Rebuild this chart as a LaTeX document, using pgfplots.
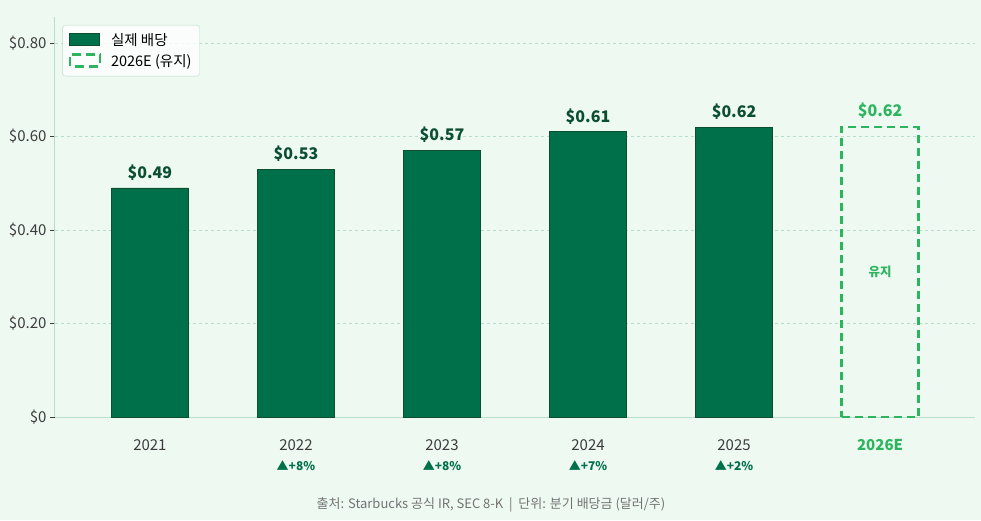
\documentclass[border=0pt]{standalone}
\usepackage{pgfplots}
\pgfplotsset{compat=1.18}
\usepackage{fontspec}
\setmainfont{Noto Sans CJK KR}
\definecolor{bg}{RGB}{238,249,242}
\definecolor{sb}{RGB}{0,112,74}
\definecolor{sbdark}{RGB}{12,78,48}
\definecolor{lg}{RGB}{45,180,95}
\definecolor{spine}{RGB}{183,222,200}
\definecolor{txt}{RGB}{60,60,60}
\definecolor{foot}{RGB}{115,115,115}
\begin{document}
\begin{tikzpicture}[x=1pt,y=1pt]
\fill[bg] (0,0) rectangle (981,520);
\begin{axis}[
  at={(55pt,103pt)}, anchor=south west,
  width=920pt, height=400pt, scale only axis,
  xmin=-0.65, xmax=5.65, ymin=0, ymax=0.8556,
  axis x line*=bottom, axis y line*=left,
  axis line style={draw=spine, line width=1pt, -},
  xtick={0,1,2,3,4,5},
  xticklabels={2021,2022,2023,2024,2025,{\color{lg}\bfseries 2026E}},
  x tick label style={font=\fontsize{15}{17}\selectfont, text=txt, yshift=-14pt},
  x tick style={draw=none},
  ytick={0,0.2,0.4,0.6,0.8},
  yticklabels={\$0,\$0.20,\$0.40,\$0.60,\$0.80},
  y tick label style={font=\fontsize{15}{17}\selectfont, text=txt},
  y tick style={draw=txt, line width=0.8pt},
  major tick length=5pt,
  tick align=outside,
  ymajorgrids,
  grid style={draw=spine, dashed, line width=0.8pt},
  /pgf/number format/assume math mode=true,
  legend style={at={(0.008,0.98)}, anchor=north west, fill=white, fill opacity=0.8, text opacity=1, draw=spine, rounded corners=3pt, font=\fontsize{14.5}{17}\selectfont, row sep=4pt, inner xsep=6pt, inner ysep=6pt},
  legend cell align=left,
  clip=false,
]
\addplot[ybar, bar width=0.527, bar shift=0pt, fill=sb, draw=sbdark, line width=0.8pt,
  legend image code/.code={\draw[sharp corners, fill=sb, fill opacity=1, draw opacity=1, draw=sbdark, line width=0.8pt, solid] (0pt,-5pt) rectangle (30pt,7pt); \path (38pt,0pt);},
  nodes near coords={\$\pgfmathprintnumber[fixed,fixed zerofill,precision=2]{\pgfplotspointmeta}},
  every node near coord/.append style={font=\fontsize{16}{18}\selectfont\bfseries, text=sbdark, yshift=4pt}]
  coordinates {(0,0.49) (1,0.53) (2,0.57) (3,0.61) (4,0.62)};
\addlegendentry{실제 배당}
\addplot[ybar, bar width=0.527, bar shift=0pt, fill=none, draw=lg, line width=2.5pt, dash pattern=on 8pt off 5pt,
  legend image code/.code={\draw[sharp corners, draw opacity=1, draw=lg, line width=2.5pt, dash pattern=on 9pt off 5pt] (0pt,-5pt) rectangle (30pt,7pt); \path (38pt,0pt);},
  nodes near coords={\$\pgfmathprintnumber[fixed,fixed zerofill,precision=2]{\pgfplotspointmeta}},
  every node near coord/.append style={font=\fontsize{16}{18}\selectfont\bfseries, text=lg, yshift=4pt}]
  coordinates {(5,0.62)};
\addlegendentry{2026E (유지)}
\node[text=lg, font=\fontsize{12.5}{14}\selectfont\bfseries] at (axis cs:5,0.31) {유지};
\node[text=sb, font=\fontsize{12}{14}\selectfont\bfseries] at (axis cs:1,0) [yshift=-49pt] {▲+8\%};
\node[text=sb, font=\fontsize{12}{14}\selectfont\bfseries] at (axis cs:2,0) [yshift=-49pt] {▲+8\%};
\node[text=sb, font=\fontsize{12}{14}\selectfont\bfseries] at (axis cs:3,0) [yshift=-49pt] {▲+7\%};
\node[text=sb, font=\fontsize{12}{14}\selectfont\bfseries] at (axis cs:4,0) [yshift=-49pt] {▲+2\%};
\end{axis}
\node[text=foot, font=\fontsize{13}{15}\selectfont] at (491,15) {출처: Starbucks 공식 IR, SEC 8-K \ {\textbar} \ 단위: 분기 배당금 (달러/주)};
\pgfresetboundingbox
\path (0,0) rectangle (981,520);
\end{tikzpicture}
\end{document}
